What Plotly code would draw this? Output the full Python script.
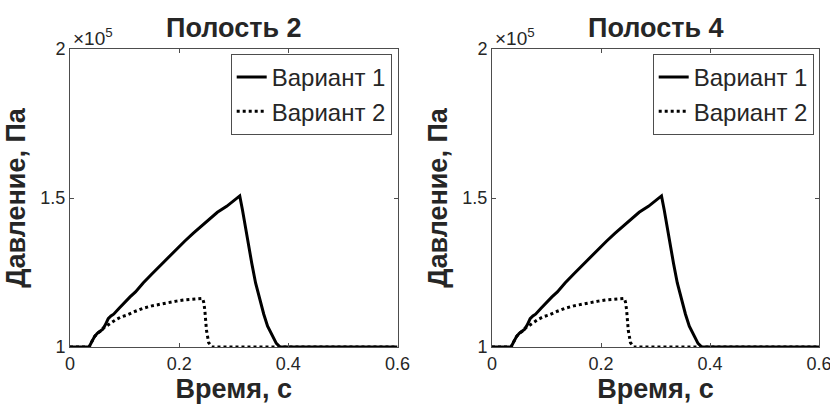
import plotly.graph_objects as go

# ---- data (pressure in Pa, time in s) ----
t_var1 = [0.0, 0.035, 0.040, 0.045, 0.050, 0.055, 0.060, 0.065, 0.070, 0.075, 0.080, 0.090,
          0.100, 0.110, 0.120, 0.134, 0.150, 0.165, 0.180, 0.195, 0.210, 0.226, 0.240, 0.256,
          0.270, 0.287, 0.300, 0.311, 0.316, 0.321, 0.327, 0.333, 0.340, 0.348, 0.355, 0.362,
          0.370, 0.378, 0.385, 0.400, 0.600]
p_var1 = [1.0, 1.0, 1.018, 1.035, 1.046, 1.052, 1.060, 1.075, 1.095, 1.104, 1.110, 1.130,
          1.150, 1.168, 1.185, 1.215, 1.245, 1.273, 1.300, 1.330, 1.355, 1.382, 1.405, 1.432,
          1.452, 1.472, 1.490, 1.507, 1.460, 1.404, 1.340, 1.281, 1.215, 1.158, 1.110, 1.070,
          1.038, 1.012, 1.0, 1.0, 1.0]
p_var1 = [v * 1e5 for v in p_var1]

t_var2 = [0.0, 0.035, 0.040, 0.045, 0.050, 0.055, 0.060, 0.065, 0.073, 0.085, 0.095, 0.104,
          0.120, 0.134, 0.150, 0.165, 0.180, 0.195, 0.210, 0.226, 0.243, 0.245, 0.247, 0.250,
          0.254, 0.260, 0.600]
p_var2 = [1.0, 1.0, 1.018, 1.035, 1.046, 1.052, 1.062, 1.068, 1.080, 1.093, 1.102, 1.107,
          1.120, 1.130, 1.138, 1.144, 1.150, 1.154, 1.158, 1.161, 1.163, 1.150, 1.124, 1.057,
          1.015, 1.0, 1.0]
p_var2 = [v * 1e5 for v in p_var2]

panel_titles = ["Полость 2", "Полость 4"]
series_names = ["Вариант 1", "Вариант 2"]
x_ticks = [0, 0.2, 0.4, 0.6]
x_tick_labels = ["0", "0.2", "0.4", "0.6"]
y_ticks = [1e5, 1.5e5, 2e5]
y_tick_labels = ["1", "1.5", "2"]

W, H = 830, 405
FONT = "Liberation Sans, Arial, sans-serif"
TXT = "#262626"
AX = "#4d4d4d"

x_domains = [[70 / W, 397.5 / W], [492 / W, 819 / W]]
y_domain = [1 - 347 / H, 1 - 49 / H]

fig = go.Figure()
for i in range(2):
    sfx = "" if i == 0 else "2"
    legend_id = "legend" if i == 0 else "legend2"
    fig.add_trace(go.Scatter(x=t_var1, y=p_var1, mode="lines", name=series_names[0],
                             line=dict(color="black", width=3),
                             xaxis="x" + sfx, yaxis="y" + sfx, legend=legend_id))
    fig.add_trace(go.Scatter(x=t_var2, y=p_var2, mode="lines", name=series_names[1],
                             line=dict(color="black", width=3, dash="dot"),
                             xaxis="x" + sfx, yaxis="y" + sfx, legend=legend_id))

axis_common = dict(showgrid=False, zeroline=False, showline=True, linecolor=AX, linewidth=1,
                   mirror="allticks", ticks="inside", ticklen=4, tickcolor=AX,
                   automargin=False, ticklabeloverflow="allow",
                   tickfont=dict(family=FONT, size=18, color=TXT))

layout = dict(
    width=W, height=H, margin=dict(l=0, r=0, t=0, b=0),
    paper_bgcolor="white", plot_bgcolor="white",
    showlegend=True,
    font=dict(family=FONT, color=TXT),
)
annotations = []
for i in range(2):
    sfx = "" if i == 0 else "2"
    xa = "xaxis" + sfx
    ya = "yaxis" + sfx
    layout[xa] = dict(axis_common, domain=x_domains[i], range=[0, 0.6], tickvals=x_ticks,
                      ticktext=x_tick_labels, anchor="y" + sfx,
                      title=dict(text="<b>Время, с</b>", font=dict(family=FONT, size=27, color=TXT),
                                 standoff=2))
    layout[ya] = dict(axis_common, domain=y_domain, range=[1e5, 2e5], tickvals=y_ticks,
                      ticktext=y_tick_labels, anchor="x" + sfx,
                      title=dict(text="<b>Давление, Па</b>", font=dict(family=FONT, size=27, color=TXT),
                                 standoff=6))
    lid = "legend" if i == 0 else "legend2"
    layout[lid] = dict(x=(391.7 + (0 if i == 0 else 422)) / W, xanchor="right",
                       y=1 - 54 / H, yanchor="top", bgcolor="white",
                       bordercolor=AX, borderwidth=1,
                       font=dict(family=FONT, size=24, color=TXT),
                       itemwidth=30, tracegroupgap=0)
    annotations.append(dict(text="<b>" + panel_titles[i] + "</b>", xref="paper", yref="paper",
                            x=(x_domains[i][0] + x_domains[i][1]) / 2, y=1 - 28 / H,
                            xanchor="center", yanchor="middle", showarrow=False,
                            font=dict(family=FONT, size=27, color=TXT)))
    annotations.append(dict(text="×10<sup>5</sup>", xref="paper", yref="paper",
                            x=x_domains[i][0] + 1 / W, y=y_domain[1] - 2 / H,
                            xanchor="left", yanchor="bottom", showarrow=False,
                            font=dict(family=FONT, size=19, color=TXT)))
layout["annotations"] = annotations
fig.update_layout(**layout)
fig.write_html("out.html", config={"displayModeBar": False},
               post_script="document.body.style.margin='0';")
